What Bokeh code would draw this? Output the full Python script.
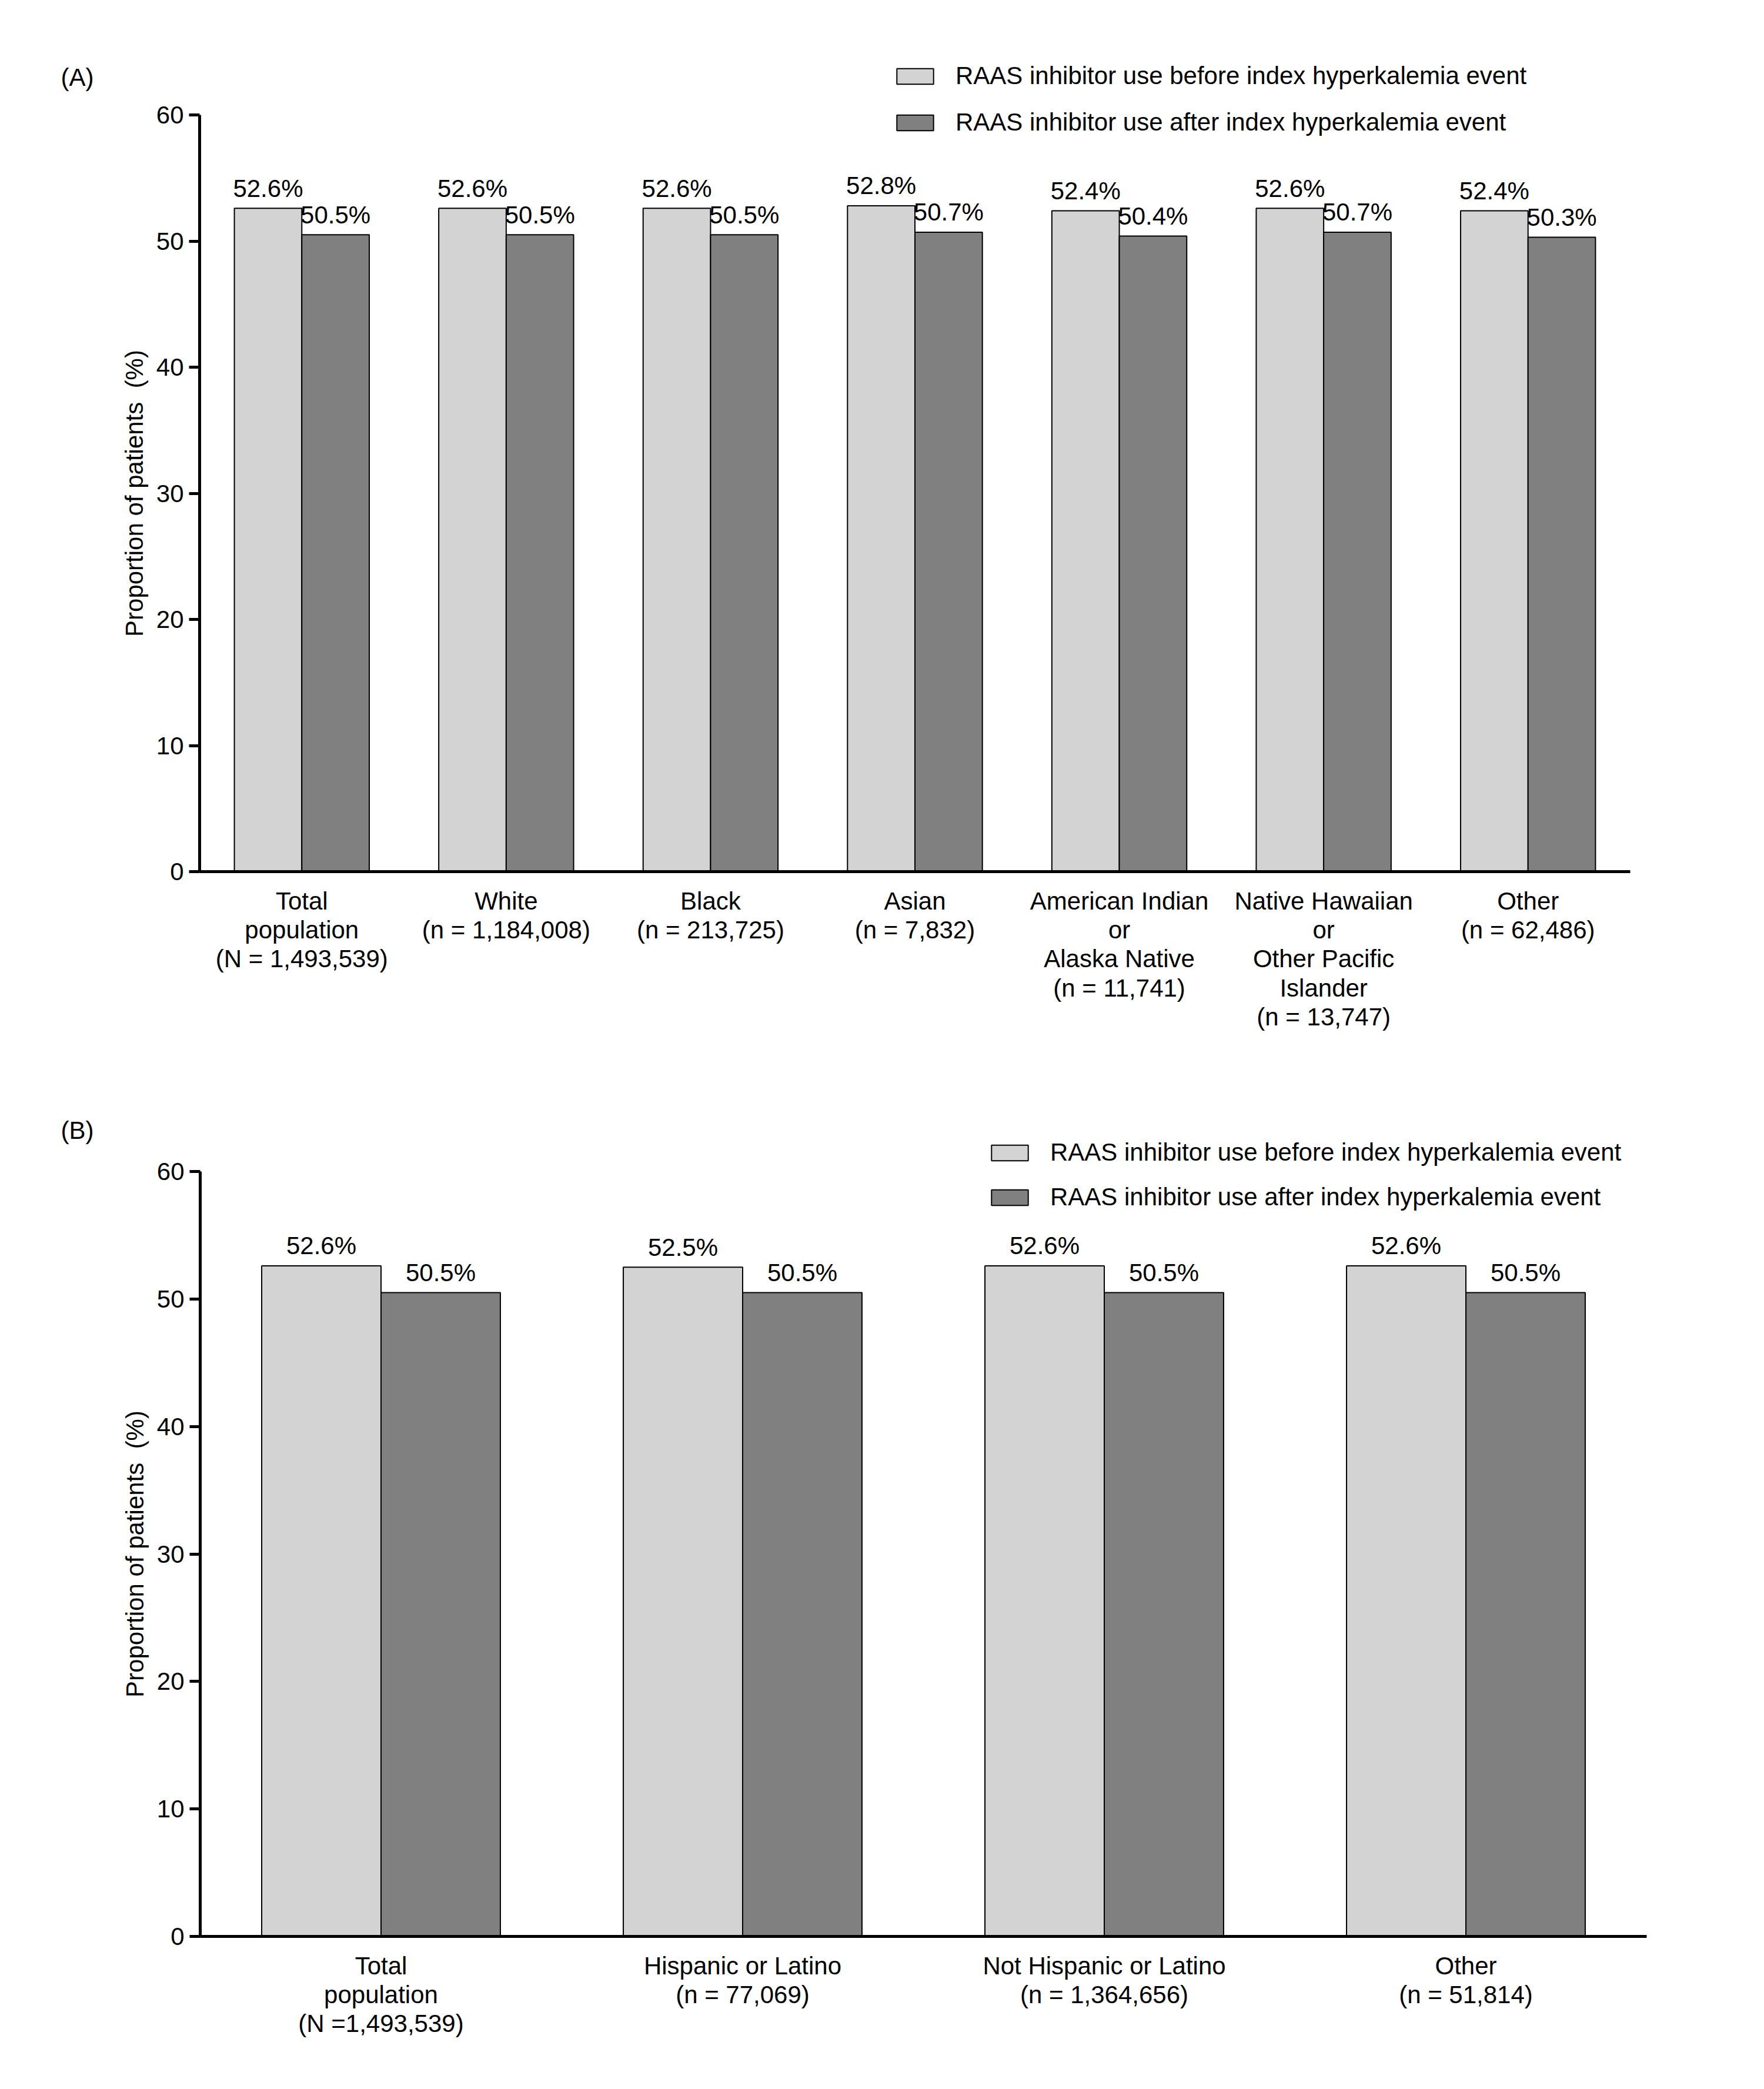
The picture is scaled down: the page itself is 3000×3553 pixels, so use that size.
import numpy as np
from bokeh.plotting import figure
from bokeh.models import ColumnDataSource, FixedTicker, Legend, LegendItem, Label
from bokeh.transform import dodge
from bokeh.core.properties import value
from bokeh.layouts import column
from bokeh.embed import file_html
from bokeh.resources import INLINE

FONT = "Liberation Sans"
LIGHT = "#d3d3d3"
DARK = "#808080"
FS = "42px"

# ---------------- data ----------------
series_names = ["RAAS inhibitor use before index hyperkalemia event",
                "RAAS inhibitor use after index hyperkalemia event"]

race_labels = ["Total\npopulation\n(N = 1,493,539)",
               "White\n(n = 1,184,008)",
               "Black\n(n = 213,725)",
               "Asian\n(n = 7,832)",
               "American Indian\nor\nAlaska Native\n(n = 11,741)",
               "Native Hawaiian\nor\nOther Pacific\nIslander\n(n = 13,747)",
               "Other\n(n = 62,486)"]
race_before = [52.6, 52.6, 52.6, 52.8, 52.4, 52.6, 52.4]
race_after = [50.5, 50.5, 50.5, 50.7, 50.4, 50.7, 50.3]

eth_labels = ["Total\npopulation\n(N =1,493,539)",
              "Hispanic or Latino\n(n = 77,069)",
              "Not Hispanic or Latino\n(n = 1,364,656)",
              "Other\n(n = 51,814)"]
eth_before = [52.6, 52.5, 52.6, 52.6]
eth_after = [50.5, 50.5, 50.5, 50.5]

y_ticks = [0, 10, 20, 30, 40, 50, 60]
Y_MAX = 60
BAR_W = 0.33


def make_panel(tag, labels, before, after, W, H, ax_left, ax_right, y_top, y_zero,
               leg_left, leg_bottom, leg_spacing, tag_px):
    """Pixel geometry (figure px, from top-left) is mapped onto the data ranges."""
    n = len(labels)
    ppx = (ax_right - ax_left) / n            # px per category
    ppy = (y_zero - y_top) / Y_MAX            # px per percent
    x0 = -0.5 - ax_left / ppx
    x1 = (n - 0.5) + (W - ax_right) / ppx
    y0 = -(H - y_zero) / ppy
    y1 = Y_MAX + y_top / ppy

    src = ColumnDataSource(dict(
        x=list(range(n)), before=before, after=after,
        before_txt=[f"{v:.1f}%" for v in before],
        after_txt=[f"{v:.1f}%" for v in after]))
    p = figure(width=W, height=H, x_range=(x0, x1), y_range=(y0, y1),
               output_backend="svg", toolbar_location=None,
               min_border_left=0, min_border_right=0,
               min_border_top=0, min_border_bottom=0)
    p.outline_line_color = None
    p.grid.visible = False
    p.background_fill_color = "white"
    p.border_fill_color = "white"

    r1 = p.vbar(x=dodge("x", -BAR_W / 2), top="before", width=BAR_W, source=src,
                fill_color=LIGHT, line_color="black", line_width=2)
    r2 = p.vbar(x=dodge("x", BAR_W / 2), top="after", width=BAR_W, source=src,
                fill_color=DARK, line_color="black", line_width=2)

    p.text(x=dodge("x", -BAR_W / 2), y="before", text="before_txt", source=src,
           text_align="center", text_baseline="alphabetic", y_offset=-34,
           text_font=value(FONT), text_font_size=FS, text_color="black")
    p.text(x=dodge("x", BAR_W / 2), y="after", text="after_txt", source=src,
           text_align="center", text_baseline="alphabetic", y_offset=-34,
           text_font=value(FONT), text_font_size=FS, text_color="black")

    # y axis, drawn at the left edge of the first category slot
    ya = p.yaxis[0]
    ya.fixed_location = -0.5
    ya.bounds = (0, Y_MAX)
    ya.ticker = FixedTicker(ticks=y_ticks)
    ya.minor_tick_line_color = None
    ya.major_tick_in = 0
    ya.major_tick_out = 18
    ya.major_tick_line_width = 5
    ya.axis_line_width = 5
    ya.major_label_standoff = 9
    ya.major_label_text_font = FONT
    ya.major_label_text_font_size = FS
    ya.major_label_text_color = "black"
    ya.axis_label = "Proportion of patients\u00a0 (%)"
    ya.axis_label_text_font = FONT
    ya.axis_label_text_font_size = FS
    ya.axis_label_text_font_style = "normal"
    ya.axis_label_text_color = "black"
    ya.axis_label_standoff = 11

    # x axis at y = 0
    xa = p.xaxis[0]
    xa.fixed_location = 0
    xa.bounds = (-0.5, n - 0.5)
    xa.ticker = FixedTicker(ticks=list(range(n)))
    xa.major_label_overrides = {i: lab for i, lab in enumerate(labels)}
    xa.minor_tick_line_color = None
    xa.major_tick_line_color = None
    xa.major_tick_in = 0
    xa.major_tick_out = 0
    xa.axis_line_width = 5
    xa.major_label_standoff = 26
    xa.major_label_text_font = FONT
    xa.major_label_text_font_size = FS
    xa.major_label_text_line_height = 1.05
    xa.major_label_text_color = "black"

    legend = Legend(items=[LegendItem(label=series_names[0], renderers=[r1]),
                           LegendItem(label=series_names[1], renderers=[r2])],
                    location=(leg_left, H - leg_bottom), orientation="vertical",
                    glyph_width=78, glyph_height=33, label_standoff=30,
                    spacing=leg_spacing, padding=0, margin=0,
                    label_text_font=FONT, label_text_font_size=FS,
                    label_text_color="black",
                    border_line_color=None, background_fill_alpha=0)
    p.add_layout(legend)

    p.add_layout(Label(x=x0 + tag_px[0] / ppx, y=y1 - tag_px[1] / ppy,
                       x_units="data", y_units="data",
                       text=tag, text_font=FONT, text_font_size=FS,
                       text_baseline="middle", text_align="left", text_color="black"))
    return p


pA = make_panel("(A)", race_labels, race_before, race_after,
                W=3000, H=1798, ax_left=339, ax_right=2772, y_top=195, y_zero=1482,
                leg_left=1517, leg_bottom=232, leg_spacing=31, tag_px=(103, 131))
pB = make_panel("(B)", eth_labels, eth_before, eth_after,
                W=3000, H=1755, ax_left=340, ax_right=2800, y_top=194, y_zero=1495,
                leg_left=1678, leg_bottom=262, leg_spacing=28, tag_px=(103, 124))

layout = column(pA, pB, spacing=0)
open("out.html", "w").write(file_html(layout, INLINE))
